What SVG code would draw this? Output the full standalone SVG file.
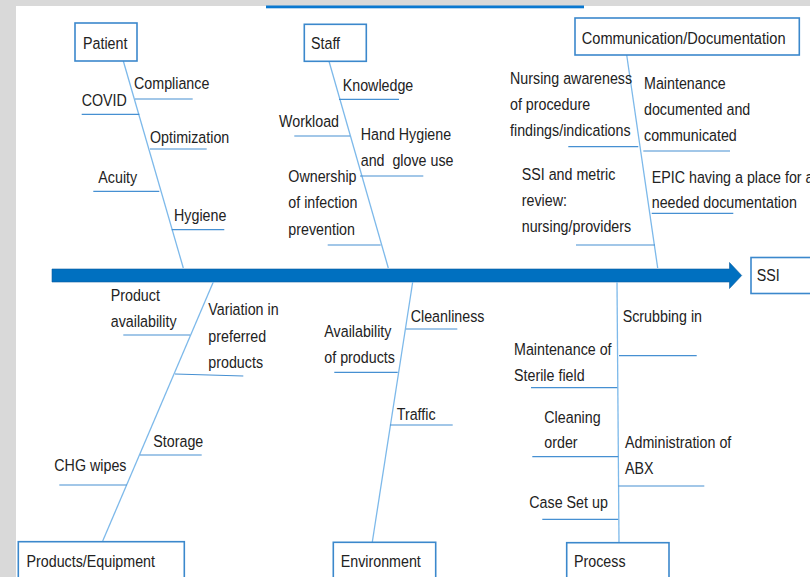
<svg xmlns="http://www.w3.org/2000/svg" width="810" height="577" viewBox="0 0 810 577">
<style>
.t{font-family:"Liberation Sans",Arial,sans-serif;font-size:17px;fill:#222}
.box{fill:#fff;stroke:#3b88cc;stroke-width:1.6}
.bone{stroke:#7db9ea;stroke-width:1.3;fill:none}
.rib{stroke:#4690d2;stroke-width:1.2;fill:none}
</style>
<rect x="0" y="0" width="810" height="577" fill="#fff"/>
<rect x="0" y="0" width="810" height="6" fill="#d9d9d9"/>
<rect x="0" y="0" width="16" height="577" fill="#d9d9d9"/>
<rect x="266" y="5.5" width="318" height="2.8" fill="#0a78d0"/>

<g id="connectors">
  <path d="M52 269 H729.5 V262.5 L741.7 275.5 L729.5 288.5 V282 H52 Z" fill="#0070c0" stroke="#0a5c9e" stroke-width="0.6"/>
  <line class="bone" x1="123.3" y1="61" x2="183.3" y2="268"/>
  <line class="bone" x1="329" y1="61.3" x2="388.3" y2="268"/>
  <line class="bone" x1="626.7" y1="55" x2="657.7" y2="268"/>
  <line class="bone" x1="213.3" y1="282" x2="102.7" y2="541"/>
  <line class="bone" x1="412.7" y1="282" x2="372.3" y2="542"/>
  <line class="bone" x1="617" y1="282" x2="619" y2="542.7"/>
  <!-- Patient ribs -->
  <line class="rib" x1="135" y1="99" x2="192.7" y2="99"/>
  <line class="rib" x1="81.7" y1="114.3" x2="139.3" y2="114.3"/>
  <line class="rib" x1="150" y1="149" x2="206.7" y2="149"/>
  <line class="rib" x1="93.3" y1="191.3" x2="159.3" y2="191.3"/>
  <line class="rib" x1="171.7" y1="229.7" x2="224.3" y2="229.7"/>
  <!-- Staff ribs -->
  <line class="rib" x1="339" y1="99.3" x2="399" y2="99.3"/>
  <line class="rib" x1="294.3" y1="136" x2="350" y2="136"/>
  <line class="rib" x1="360" y1="176" x2="423.3" y2="176"/>
  <line class="rib" x1="327.7" y1="245" x2="380.7" y2="245"/>
  <!-- Communication ribs -->
  <line class="rib" x1="568.3" y1="146.7" x2="638.3" y2="146.7"/>
  <line class="rib" x1="643.3" y1="151" x2="730" y2="151"/>
  <line class="rib" x1="576" y1="245" x2="655" y2="245"/>
  <line class="rib" x1="651.7" y1="213.3" x2="733.3" y2="213.3"/>
  <!-- Products ribs -->
  <line class="rib" x1="123.3" y1="335" x2="190" y2="335"/>
  <line class="rib" x1="175" y1="374" x2="243.3" y2="376"/>
  <line class="rib" x1="140" y1="455" x2="201.7" y2="455"/>
  <line class="rib" x1="59.3" y1="485" x2="126.7" y2="485"/>
  <!-- Environment ribs -->
  <line class="rib" x1="406" y1="329" x2="457.3" y2="329"/>
  <line class="rib" x1="334.3" y1="372.3" x2="397.7" y2="372.3"/>
  <line class="rib" x1="390" y1="425" x2="452.7" y2="425"/>
  <!-- Process ribs -->
  <line class="rib" x1="619" y1="355.7" x2="696.7" y2="355.7"/>
  <line class="rib" x1="531" y1="387.7" x2="617.3" y2="387.7"/>
  <line class="rib" x1="532.3" y1="456.7" x2="618.3" y2="456.7"/>
  <line class="rib" x1="618.3" y1="486" x2="704.3" y2="486"/>
  <line class="rib" x1="542.3" y1="519.3" x2="618.3" y2="519.3"/>
</g>

<g id="node-ssi">
  <rect class="box" x="751" y="257.5" width="70" height="36"/>
  <text class="t" transform="translate(756.7,281) scale(0.84,1)">SSI</text>
</g>
<g id="node-patient">
  <rect class="box" x="75" y="23" width="62" height="38"/>
  <text class="t" transform="translate(83,48.7) scale(0.84,1)">Patient</text>
</g>
<g id="node-staff">
  <rect class="box" x="304.3" y="24.3" width="62" height="37"/>
  <text class="t" transform="translate(311,49) scale(0.84,1)">Staff</text>
</g>
<g id="node-communication">
  <rect class="box" x="575" y="18" width="224.3" height="37"/>
  <text class="t" transform="translate(581.7,44) scale(0.86,1)">Communication/Documentation</text>
</g>
<g id="node-products">
  <rect class="box" x="18.3" y="541.7" width="166" height="45"/>
  <text class="t" transform="translate(26.5,567) scale(0.84,1)">Products/Equipment</text>
</g>
<g id="node-environment">
  <rect class="box" x="333.3" y="542.3" width="102.4" height="45"/>
  <text class="t" transform="translate(340.7,567) scale(0.84,1)">Environment</text>
</g>
<g id="node-process">
  <rect class="box" x="566.7" y="542.7" width="102.3" height="45"/>
  <text class="t" transform="translate(574,567) scale(0.84,1)">Process</text>
</g>

<g id="causes-patient">
  <text class="t" transform="translate(134,89.3) scale(0.84,1)">Compliance</text>
  <text class="t" transform="translate(81.7,106) scale(0.84,1)">COVID</text>
  <text class="t" transform="translate(150,143.3) scale(0.84,1)">Optimization</text>
  <text class="t" transform="translate(98.3,182.7) scale(0.84,1)">Acuity</text>
  <text class="t" transform="translate(174,220.7) scale(0.84,1)">Hygiene</text>
</g>
<g id="causes-staff">
  <text class="t" transform="translate(342.7,90.7) scale(0.84,1)">Knowledge</text>
  <text class="t" transform="translate(279,126.7) scale(0.84,1)">Workload</text>
  <text class="t" transform="translate(360.7,140) scale(0.84,1)"><tspan x="0" y="0">Hand Hygiene</tspan><tspan x="0" y="26">and&#160; glove use</tspan></text>
  <text class="t" transform="translate(288.3,181.7) scale(0.84,1)"><tspan x="0" y="0">Ownership</tspan><tspan x="0" y="26">of infection</tspan><tspan x="0" y="53">prevention</tspan></text>
</g>
<g id="causes-communication">
  <text class="t" transform="translate(510,84) scale(0.84,1)"><tspan x="0" y="0">Nursing awareness</tspan><tspan x="0" y="26">of procedure</tspan><tspan x="0" y="52">findings/indications</tspan></text>
  <text class="t" transform="translate(644,89.3) scale(0.84,1)"><tspan x="0" y="0">Maintenance</tspan><tspan x="0" y="26">documented and</tspan><tspan x="0" y="52">communicated</tspan></text>
  <text class="t" transform="translate(521.7,180) scale(0.84,1)"><tspan x="0" y="0">SSI and metric</tspan><tspan x="0" y="26.5">review:</tspan><tspan x="0" y="52.5">nursing/providers</tspan></text>
  <text class="t" transform="translate(651.7,182.7) scale(0.84,1)"><tspan x="0" y="0">EPIC having a place for all</tspan><tspan x="0" y="25">needed documentation</tspan></text>
</g>
<g id="causes-products">
  <text class="t" transform="translate(110.7,300.7) scale(0.84,1)"><tspan x="0" y="0">Product</tspan><tspan x="0" y="26">availability</tspan></text>
  <text class="t" transform="translate(208.3,315) scale(0.84,1)"><tspan x="0" y="0">Variation in</tspan><tspan x="0" y="26.7">preferred</tspan><tspan x="0" y="53.3">products</tspan></text>
  <text class="t" transform="translate(153.3,446.7) scale(0.84,1)">Storage</text>
  <text class="t" transform="translate(54.3,471) scale(0.84,1)">CHG wipes</text>
</g>
<g id="causes-environment">
  <text class="t" transform="translate(410.7,322.3) scale(0.84,1)">Cleanliness</text>
  <text class="t" transform="translate(324.3,337.3) scale(0.84,1)"><tspan x="0" y="0">Availability</tspan><tspan x="0" y="26">of products</tspan></text>
  <text class="t" transform="translate(396.7,420) scale(0.84,1)">Traffic</text>
</g>
<g id="causes-process">
  <text class="t" transform="translate(622.7,321.7) scale(0.84,1)">Scrubbing in</text>
  <text class="t" transform="translate(514,355) scale(0.84,1)"><tspan x="0" y="0">Maintenance of</tspan><tspan x="0" y="25.7">Sterile field</tspan></text>
  <text class="t" transform="translate(544.3,423.3) scale(0.84,1)"><tspan x="0" y="0">Cleaning</tspan><tspan x="0" y="25">order</tspan></text>
  <text class="t" transform="translate(625,448.3) scale(0.84,1)"><tspan x="0" y="0">Administration of</tspan><tspan x="0" y="25.7">ABX</tspan></text>
  <text class="t" transform="translate(529.3,507.7) scale(0.84,1)">Case Set up</text>
</g>
</svg>
